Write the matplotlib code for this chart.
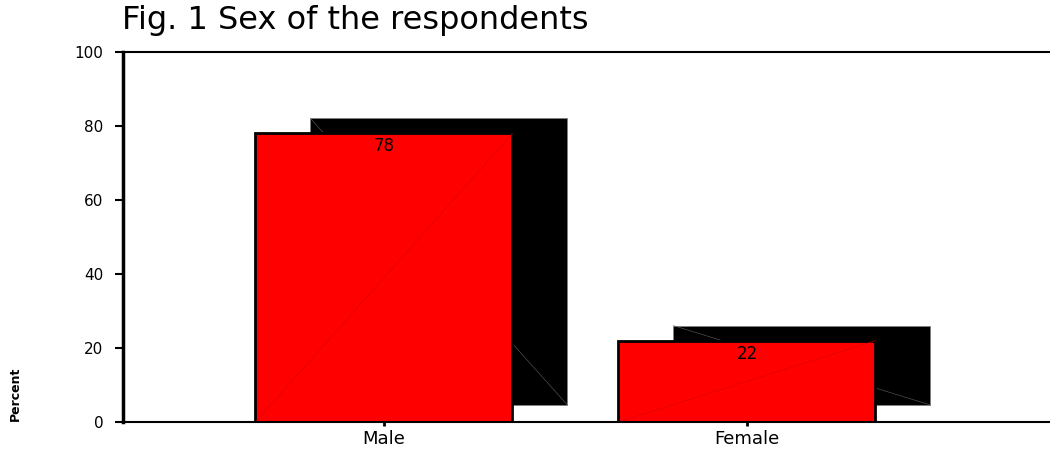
"""
Fig. 1 Sex of the respondents - shadowed bar chart
"""

import matplotlib
matplotlib.use('Agg')
import matplotlib.pyplot as plt
from matplotlib.patches import Rectangle

# -------------------- DATA --------------------
categories = ['Male', 'Female']
percents = [78, 22]
y_ticks = [0, 20, 40, 60, 80, 100]
TITLE = "Fig. 1 Sex of the respondents"
Y_LABEL = "Percent"
# ----------------------------------------------

BAR_W = 0.708
SHADOW_DX = 0.1515
SHADOW_DY = 4.05
SHADOW_BASE = 4.6

plt.rcParams['font.family'] = ['DejaVu Sans']

fig = plt.figure(figsize=(10.5, 4.49), dpi=100)
ax = fig.add_axes([123 / 1050, 27 / 449, 1 - 123 / 1050, 370 / 449])

for i, (cat, val) in enumerate(zip(categories, percents)):
    left = i - BAR_W / 2
    # shadow block behind the bar
    sx = left + SHADOW_DX
    ax.add_patch(Rectangle((sx, SHADOW_BASE), BAR_W, val + SHADOW_DY - SHADOW_BASE,
                           facecolor='black', edgecolor='#808080', lw=0.6, zorder=1))
    ax.plot([sx, sx + BAR_W], [val + SHADOW_DY, SHADOW_BASE],
            color='#606060', lw=0.4, zorder=1.5)
    # red bar
    ax.add_patch(Rectangle((left, 0), BAR_W, val,
                           facecolor='#ff0000', edgecolor='black', lw=2, zorder=2))
    ax.plot([left, left + BAR_W], [0, val], color='#d80000', lw=0.4, zorder=2.5)
    ax.text(i, val - 3.5, str(val), ha='center', va='center', fontsize=12, zorder=3)

ax.set_xlim(-0.719, 1.835)
ax.set_ylim(0, 100)
ax.set_xticks(range(len(categories)))
ax.set_xticklabels(categories, fontsize=13)
ax.set_yticks(y_ticks)
ax.set_yticklabels([str(t) for t in y_ticks], fontsize=11)
ax.tick_params(axis='y', length=6, width=1.5, pad=8)
ax.tick_params(axis='x', length=3, width=2, pad=3)

ax.spines['right'].set_visible(False)
ax.spines['left'].set_linewidth(2.5)
ax.spines['bottom'].set_linewidth(1.5)
ax.spines['top'].set_linewidth(1.5)

fig.text(122 / 1050, 1 - 20 / 449, TITLE, fontsize=23, ha='left', va='center')
fig.text(15 / 1050, 1 - 394 / 449, Y_LABEL, fontsize=9, fontweight='bold',
         rotation=90, ha='center', va='center')

fig.savefig('out.png', dpi=100)
